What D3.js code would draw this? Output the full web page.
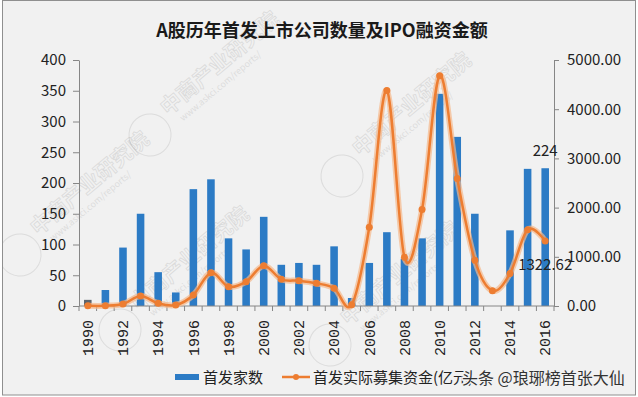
<!DOCTYPE html>
<html>
<head>
	<meta charset="utf-8">
	<title>A股IPO</title>
	<script type="text/javascript" src="https://d3js.org/d3.v7.min.js"></script>
	<style>
		body { margin: 0; background: #fff; }
		text { font-family: "Noto Sans CJK SC", "Noto Sans", sans-serif; }
	</style>
</head>
<body>
	<div id="chart"></div>
	<script>
	// years, IPO count (left axis) and money raised in 亿元 (right axis)
	var years = d3.range(1990, 2017).map(String);
	var counts = [10, 26, 95, 150, 55, 22, 190, 206, 110, 92, 145, 67, 70, 67, 97, 13,
		70, 120, 77, 110, 345, 275, 150, 0, 123, 223, 224];
	var amounts = [5, 5, 40, 204, 55, 20, 224, 677, 393, 494, 820, 542, 515, 461, 360, 25,
		1600, 4380, 990, 1960, 4680, 2590, 930, 310, 660, 1550, 1322.62];
	var leftTicks = [0, 50, 100, 150, 200, 250, 300, 350, 400];
	var rightTicks = [0, 1000, 2000, 3000, 4000, 5000];
	var yearLabels = years.filter(function(d, i){ return i % 2 === 0; });

	var width = 638;
	var height = 397;
	var plotLeft = 79, plotRight = 554, plotTop = 60, plotBottom = 306;

	var svg = d3.select("#chart")
				.append("svg")
					.attr("width", width)
					.attr("height", height);

	// frame + background
	svg.append("rect")
		.attr("x", 2.5).attr("y", 0.5)
		.attr("width", 633).attr("height", 394.5)
		.attr("fill", "#f1f1f1")
		.attr("stroke", "#8f8f8f");

	// faint watermarks
	var marks = [[150, 135], [342, 176], [330, 345], [120, 330], [20, 255]];
	var wm = svg.append("g").attr("clip-path", "url(#frameClip)");
	svg.append("clipPath").attr("id", "frameClip")
		.append("rect").attr("x", 3).attr("y", 1).attr("width", 632).attr("height", 393);
	marks.forEach(function(m){
		var g = wm.append("g")
			.attr("transform", "translate(" + m[0] + "," + m[1] + ") rotate(-40)")
			.attr("opacity", 0.13);
		g.append("circle").attr("r", 21).attr("fill", "none").attr("stroke", "#555");
		g.append("text").attr("x", 26).attr("y", -3)
			.attr("font-size", 21).attr("font-weight", "bold")
			.attr("fill", "none").attr("stroke", "#444").attr("stroke-width", 0.8)
			.text("中商产业研究院");
		g.append("text").attr("x", 34).attr("y", 11)
			.attr("font-size", 9).attr("fill", "#555")
			.text("www.askci.com/reports/");
	});

	var x = d3.scaleBand()
			.domain(years)
			.range([plotLeft, plotRight])
			.paddingInner(0.57)
			.paddingOuter(0.285);

	var yLeft = d3.scaleLinear().domain([0, 400]).range([plotBottom, plotTop]);
	var yRight = d3.scaleLinear().domain([0, 5000]).range([plotBottom, plotTop]);

	// title
	svg.append("text")
		.attr("x", 322).attr("y", 37)
		.attr("text-anchor", "middle")
		.attr("font-size", 18)
		.attr("font-weight", "bold")
		.attr("fill", "#1a1a1a")
		.text("A股历年首发上市公司数量及IPO融资金额");

	// bars
	svg.selectAll(".bar")
		.data(counts)
		.enter()
		.append("rect")
			.attr("class", "bar")
			.attr("x", function(d, i){ return x(years[i]); })
			.attr("width", x.bandwidth())
			.attr("y", function(d){ return yLeft(d); })
			.attr("height", function(d){ return plotBottom - yLeft(d); })
			.attr("fill", function(d, i){ return i === 0 ? "#5d646c" : "#2c7bc5"; });

	// left axis
	var axL = svg.append("g")
		.attr("transform", "translate(" + plotLeft + ",0)")
		.call(d3.axisLeft(yLeft).tickValues(leftTicks).tickSize(6).tickPadding(7).tickSizeOuter(0));
	axL.selectAll("text").attr("font-size", 15).attr("fill", "#222")
		.style("font-family", "'Noto Sans CJK SC', sans-serif");

	// right axis
	var axR = svg.append("g")
		.attr("transform", "translate(" + plotRight + ",0)")
		.call(d3.axisRight(yRight).tickValues(rightTicks).tickFormat(d3.format(".2f"))
			.tickSize(5).tickPadding(8).tickSizeOuter(0));
	axR.selectAll("text").attr("font-size", 15).attr("fill", "#222")
		.style("font-family", "'Noto Sans CJK SC', sans-serif");

	// bottom axis: ticks at band edges, labels every other year
	var axB = svg.append("g")
		.attr("transform", "translate(0," + plotBottom + ")")
		.call(d3.axisBottom(x).tickValues(yearLabels).tickSize(0).tickPadding(0).tickSizeOuter(0));
	axB.select(".domain").attr("d", "M" + plotLeft + ",0H" + plotRight);
	axB.selectAll(".tick text")
		.attr("transform", "translate(0,14) rotate(-90)")
		.attr("text-anchor", "end")
		.attr("dy", "0.35em")
		.attr("font-size", 15)
		.attr("fill", "#222")
		.style("font-family", "'Liberation Mono', monospace");
	var gap = (x.step() - x.bandwidth()) / 2;
	axB.selectAll(".edge")
		.data(years.concat(["end"]))
		.enter()
		.append("line")
			.attr("class", "edge")
			.attr("x1", function(d){ return d === "end" ? plotRight : x(d) - gap; })
			.attr("x2", function(d){ return d === "end" ? plotRight : x(d) - gap; })
			.attr("y1", 0).attr("y2", 5)
			.attr("stroke", "#868686");

	svg.selectAll(".domain, .tick line").attr("stroke", "#868686");

	// smoothed line with soft glow
	var line = d3.line()
		.x(function(d, i){ return x(years[i]) + x.bandwidth() / 2; })
		.y(function(d){ return yRight(d); })
		.curve(d3.curveCatmullRom.alpha(0));

	svg.append("path")
		.datum(amounts)
		.attr("d", line)
		.attr("fill", "none")
		.attr("stroke", "#f5b88a")
		.attr("stroke-opacity", 0.7)
		.attr("stroke-width", 6);

	svg.append("path")
		.datum(amounts)
		.attr("d", line)
		.attr("fill", "none")
		.attr("stroke", "#ed7d31")
		.attr("stroke-width", 2.5);

	svg.selectAll(".dot")
		.data(amounts)
		.enter()
		.append("circle")
			.attr("class", "dot")
			.attr("cx", function(d, i){ return x(years[i]) + x.bandwidth() / 2; })
			.attr("cy", function(d){ return yRight(d); })
			.attr("r", 3.5)
			.attr("fill", "#ed7d31");

	// data labels for last year
	var lastX = x(years[years.length - 1]) + x.bandwidth() / 2;
	svg.append("text")
		.attr("x", lastX).attr("y", yLeft(counts[counts.length - 1]) - 12)
		.attr("text-anchor", "middle")
		.attr("font-size", 15)
		.attr("fill", "#222")
		.text(counts[counts.length - 1]);
	svg.append("text")
		.attr("x", lastX).attr("y", 270)
		.attr("text-anchor", "middle")
		.attr("font-size", 15)
		.attr("fill", "#222")
		.text(d3.format(".2f")(amounts[amounts.length - 1]));

	// legend
	var lg = svg.append("g");
	lg.append("rect")
		.attr("x", 175).attr("y", 374)
		.attr("width", 24).attr("height", 6)
		.attr("fill", "#2c7bc5");
	lg.append("text")
		.attr("x", 203).attr("y", 383)
		.attr("font-size", 15).attr("fill", "#222")
		.text("首发家数");
	lg.append("line")
		.attr("x1", 282).attr("x2", 310)
		.attr("y1", 377).attr("y2", 377)
		.attr("stroke", "#ed7d31").attr("stroke-width", 2.5);
	lg.append("circle")
		.attr("cx", 296).attr("cy", 377).attr("r", 3)
		.attr("fill", "#ed7d31");
	lg.append("text")
		.attr("x", 313).attr("y", 383)
		.attr("font-size", 15).attr("fill", "#222")
		.text("首发实际募集资金(亿元)");

	// overlaid source tag
	svg.append("text")
		.attr("x", 462).attr("y", 384)
		.attr("font-size", 16)
		.attr("fill", "#333")
		.attr("stroke", "#f1f1f1")
		.attr("stroke-width", 3)
		.attr("paint-order", "stroke")
		.text("头条 @琅琊榜首张大仙");
	</script>
</body>
</html>
